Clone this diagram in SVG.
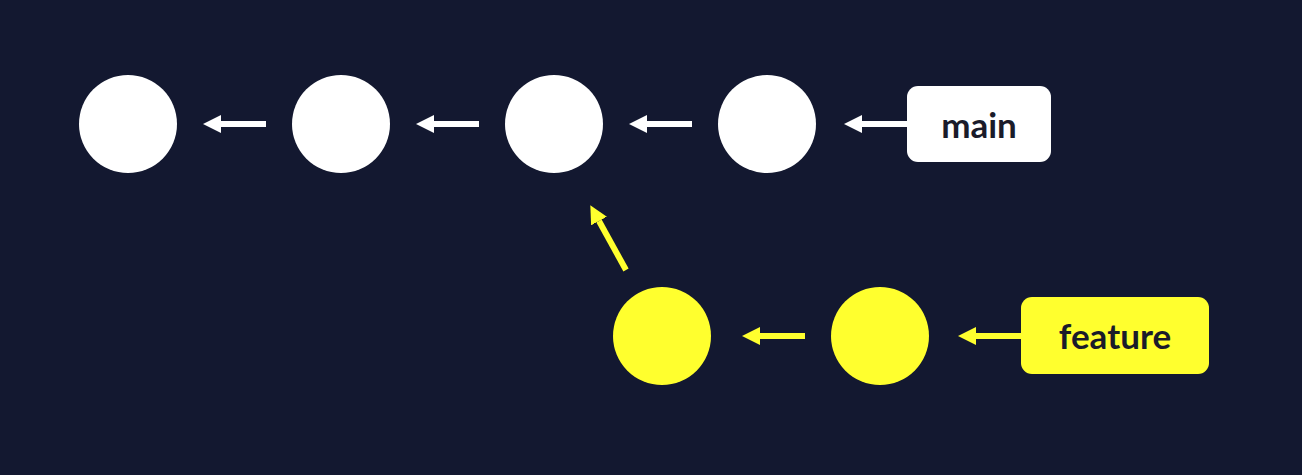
<svg xmlns="http://www.w3.org/2000/svg" width="1302" height="475" viewBox="0 0 1302 475">
<style>
.bg{fill:#131830}
.w{fill:#ffffff}
.y{fill:#ffff2e}
.lw{stroke:#ffffff;stroke-width:6;fill:none}
.ly{stroke:#ffff2e;stroke-width:6;fill:none}
.lbl{font-family:"Lato","Noto Sans",sans-serif;font-weight:bold;font-size:35px;fill:#1a1b2a;text-anchor:middle}
</style>
<defs>
<marker id="aw" markerUnits="userSpaceOnUse" markerWidth="18" markerHeight="18" viewBox="0 0 18 18" refX="0" refY="9" orient="auto"><path d="M0,0 L18,9 L0,18 Z" fill="#ffffff"/></marker>
<marker id="ay" markerUnits="userSpaceOnUse" markerWidth="18" markerHeight="18" viewBox="0 0 18 18" refX="0" refY="9" orient="auto"><path d="M0,0 L18,9 L0,18 Z" fill="#ffff2e"/></marker>
</defs>
<rect class="bg" x="0" y="0" width="1302" height="475"/>
<g id="connectors">
<line class="lw" x1="266" y1="124" x2="221" y2="124" marker-end="url(#aw)"/>
<line class="lw" x1="479" y1="124" x2="434" y2="124" marker-end="url(#aw)"/>
<line class="lw" x1="692" y1="124" x2="647" y2="124" marker-end="url(#aw)"/>
<line class="lw" x1="907" y1="124" x2="862" y2="124" marker-end="url(#aw)"/>
<line class="ly" x1="626" y1="270" x2="599" y2="221" marker-end="url(#ay)"/>
<line class="ly" x1="805" y1="336" x2="760" y2="336" marker-end="url(#ay)"/>
<line class="ly" x1="1021" y1="336" x2="976" y2="336" marker-end="url(#ay)"/>
</g>
<g id="c1"><circle class="w" cx="128" cy="124" r="49"/></g>
<g id="c2"><circle class="w" cx="341" cy="124" r="49"/></g>
<g id="c3"><circle class="w" cx="554" cy="124" r="49"/></g>
<g id="c4"><circle class="w" cx="767" cy="124" r="49"/></g>
<g id="f1"><circle class="y" cx="662" cy="336" r="49"/></g>
<g id="f2"><circle class="y" cx="880" cy="336" r="49"/></g>
<g id="main"><rect class="w" x="907" y="86" width="144" height="76" rx="11"/><text class="lbl" x="979" y="138">main</text></g>
<g id="feature"><rect class="y" x="1021" y="297" width="188" height="77" rx="11"/><text class="lbl" x="1115" y="349">feature</text></g>
</svg>
